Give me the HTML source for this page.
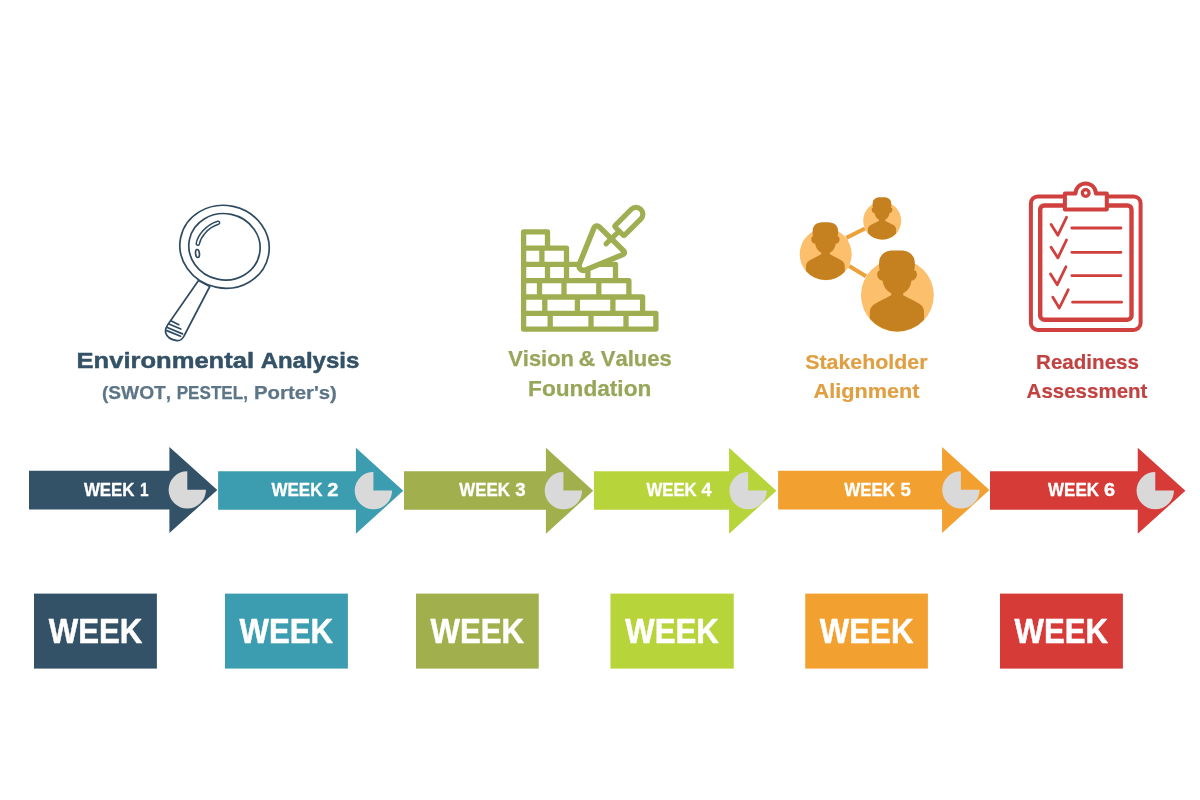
<!DOCTYPE html>
<html lang="en">
<head>
<meta charset="utf-8">
<title>Six-Week Strategy Timeline</title>
<style>
html,body{margin:0;padding:0;background:#ffffff;}
body{width:1200px;height:800px;overflow:hidden;font-family:"Liberation Sans",sans-serif;}
svg{display:block;will-change:transform;}
text{font-family:"Liberation Sans",sans-serif;font-weight:bold;font-kerning:none;stroke-linejoin:round;}
</style>
</head>
<body>
<svg width="1200" height="800" viewBox="0 0 1200 800">
<rect width="1200" height="800" fill="#ffffff"/>

<g id="arrows">
<path fill="#335167" d="M29.0,470.70 H169.4 V446.90 L217.30,490.00 L169.4,533.05 V509.45 H29.0 Z"/>
<path fill="#d9d9d9" d="M187.3,489.85 V471.15 A18.7,18.7 0 1 0 206.00,489.85 Z"/>
<text y="496.0" font-size="18.9" fill="#ffffff" stroke="#ffffff" stroke-width="0.35"><tspan x="83.91" textLength="50.67" lengthAdjust="spacingAndGlyphs">WEEK</tspan> <tspan x="140.01" textLength="8.55" lengthAdjust="spacingAndGlyphs">1</tspan></text>
<path fill="#3d9db0" d="M218.1,471.20 H355.9 V447.65 L403.20,490.75 L355.9,533.80 V509.80 H218.1 Z"/>
<path fill="#d9d9d9" d="M373.4,490.60 V471.90 A18.7,18.7 0 1 0 392.10,490.60 Z"/>
<text y="496.0" font-size="18.9" fill="#ffffff" stroke="#ffffff" stroke-width="0.35"><tspan x="271.41" textLength="51.07" lengthAdjust="spacingAndGlyphs">WEEK</tspan> <tspan x="327.38" textLength="11.15" lengthAdjust="spacingAndGlyphs">2</tspan></text>
<path fill="#a1b04d" d="M404.0,471.20 H545.9 V447.65 L593.20,490.75 L545.9,533.80 V509.80 H404.0 Z"/>
<path fill="#d9d9d9" d="M563.4,490.60 V471.90 A18.7,18.7 0 1 0 582.10,490.60 Z"/>
<text y="496.0" font-size="18.9" fill="#ffffff" stroke="#ffffff" stroke-width="0.35"><tspan x="459.36" textLength="50.62" lengthAdjust="spacingAndGlyphs">WEEK</tspan> <tspan x="515.15" textLength="10.35" lengthAdjust="spacingAndGlyphs">3</tspan></text>
<path fill="#b8d43b" d="M594.0,471.20 H729.1 V447.65 L776.40,490.75 L729.1,533.80 V509.80 H594.0 Z"/>
<path fill="#d9d9d9" d="M748.1,490.60 V471.90 A18.7,18.7 0 1 0 766.80,490.60 Z"/>
<text y="496.0" font-size="18.9" fill="#ffffff" stroke="#ffffff" stroke-width="0.35"><tspan x="646.41" textLength="50.27" lengthAdjust="spacingAndGlyphs">WEEK</tspan> <tspan x="701.60" textLength="10.02" lengthAdjust="spacingAndGlyphs">4</tspan></text>
<path fill="#f2a130" d="M778.1,470.70 H942.1 V446.90 L989.40,490.00 L942.1,533.05 V509.45 H778.1 Z"/>
<path fill="#d9d9d9" d="M960.9,489.85 V471.15 A18.7,18.7 0 1 0 979.60,489.85 Z"/>
<text y="496.0" font-size="18.9" fill="#ffffff" stroke="#ffffff" stroke-width="0.35"><tspan x="844.36" textLength="50.62" lengthAdjust="spacingAndGlyphs">WEEK</tspan> <tspan x="900.40" textLength="10.34" lengthAdjust="spacingAndGlyphs">5</tspan></text>
<path fill="#d63b38" d="M990.0,471.20 H1137.75 V447.65 L1185.40,490.75 L1137.75,533.80 V509.80 H990.0 Z"/>
<path fill="#d9d9d9" d="M1155.25,490.60 V471.90 A18.7,18.7 0 1 0 1173.95,490.60 Z"/>
<text y="496.0" font-size="18.9" fill="#ffffff" stroke="#ffffff" stroke-width="0.35"><tspan x="1048.06" textLength="50.92" lengthAdjust="spacingAndGlyphs">WEEK</tspan> <tspan x="1104.04" textLength="11.10" lengthAdjust="spacingAndGlyphs">6</tspan></text>
</g>
<g id="boxes">
<rect x="34.0" y="593.6" width="122.90" height="75.0" fill="#335167"/>
<text y="642.8" font-size="35.6" fill="#ffffff" stroke="#ffffff" stroke-width="0.5"><tspan x="48.72" textLength="93.57" lengthAdjust="spacingAndGlyphs">WEEK</tspan></text>
<rect x="225.0" y="593.6" width="122.90" height="75.0" fill="#3d9db0"/>
<text y="642.8" font-size="35.6" fill="#ffffff" stroke="#ffffff" stroke-width="0.5"><tspan x="239.62" textLength="93.52" lengthAdjust="spacingAndGlyphs">WEEK</tspan></text>
<rect x="416.0" y="593.6" width="122.75" height="75.0" fill="#a1b04d"/>
<text y="642.8" font-size="35.6" fill="#ffffff" stroke="#ffffff" stroke-width="0.5"><tspan x="430.62" textLength="93.52" lengthAdjust="spacingAndGlyphs">WEEK</tspan></text>
<rect x="610.45" y="593.6" width="123.30" height="75.0" fill="#b8d43b"/>
<text y="642.8" font-size="35.6" fill="#ffffff" stroke="#ffffff" stroke-width="0.5"><tspan x="625.22" textLength="93.57" lengthAdjust="spacingAndGlyphs">WEEK</tspan></text>
<rect x="805.25" y="593.6" width="122.65" height="75.0" fill="#f2a130"/>
<text y="642.8" font-size="35.6" fill="#ffffff" stroke="#ffffff" stroke-width="0.5"><tspan x="819.82" textLength="93.62" lengthAdjust="spacingAndGlyphs">WEEK</tspan></text>
<rect x="1000.0" y="593.6" width="122.90" height="75.0" fill="#d63b38"/>
<text y="642.8" font-size="35.6" fill="#ffffff" stroke="#ffffff" stroke-width="0.5"><tspan x="1014.62" textLength="93.52" lengthAdjust="spacingAndGlyphs">WEEK</tspan></text>
</g>
<g id="headings">
<text y="367.6" font-size="22.9" fill="#335167" stroke="#335167" stroke-width="0.5"><tspan x="76.54" textLength="177.52" lengthAdjust="spacingAndGlyphs">Environmental</tspan> <tspan x="260.65" textLength="98.58" lengthAdjust="spacingAndGlyphs">Analysis</tspan></text>
<text y="399.45" font-size="19.0" fill="#5c7587" stroke="#5c7587" stroke-width="0.25"><tspan x="101.92" textLength="69.24" lengthAdjust="spacingAndGlyphs">(SWOT,</tspan> <tspan x="176.73" textLength="71.19" lengthAdjust="spacingAndGlyphs">PESTEL,</tspan> <tspan x="254.01" textLength="82.87" lengthAdjust="spacingAndGlyphs">Porter's)</tspan></text>
<text y="365.6" font-size="21.2" fill="#97a75a" stroke="#97a75a" stroke-width="0.25"><tspan x="508.23" textLength="65.76" lengthAdjust="spacingAndGlyphs">Vision</tspan> <tspan x="578.60" textLength="16.80" lengthAdjust="spacingAndGlyphs">&amp;</tspan> <tspan x="600.77" textLength="71.00" lengthAdjust="spacingAndGlyphs">Values</tspan></text>
<text y="395.6" font-size="21.2" fill="#97a75a" stroke="#97a75a" stroke-width="0.25"><tspan x="528.11" textLength="123.17" lengthAdjust="spacingAndGlyphs">Foundation</tspan></text>
<text y="369.4" font-size="20.4" fill="#e09f42" stroke="#e09f42" stroke-width="0.2"><tspan x="805.18" textLength="122.34" lengthAdjust="spacingAndGlyphs">Stakeholder</tspan></text>
<text y="397.8" font-size="20.4" fill="#e09f42" stroke="#e09f42" stroke-width="0.2"><tspan x="813.56" textLength="105.90" lengthAdjust="spacingAndGlyphs">Alignment</tspan></text>
<text y="369.4" font-size="20.4" fill="#c24141" stroke="#c24141" stroke-width="0.2"><tspan x="1036.02" textLength="103.02" lengthAdjust="spacingAndGlyphs">Readiness</tspan></text>
<text y="397.8" font-size="20.4" fill="#c24141" stroke="#c24141" stroke-width="0.2"><tspan x="1026.59" textLength="120.86" lengthAdjust="spacingAndGlyphs">Assessment</tspan></text>
</g>
<g id="magnifier" fill="none" stroke="#2f4b61" stroke-width="1.7" stroke-linecap="round" stroke-linejoin="round">
<path fill="#ffffff" d="M198.5,280.5 L170,321.5 C166.5,326 164.8,329.5 165.6,332.5 C166.6,336.5 171,339.8 177,340.6 C180.5,341 182.6,339 184,336 L209.8,286.5 Z"/>
<path d="M170.9,320.7 L178.8,324.7 M169.0,324.0 L180.8,329.0 M167.3,327.5 L182.5,333.85 M166.8,330.6 L180.6,336.3"/>
<ellipse cx="224.6" cy="246.8" rx="44.8" ry="41.3" fill="#ffffff" transform="rotate(12 224.6 246.4)"/>
<ellipse cx="224.5" cy="246.8" rx="35.75" ry="33.1" transform="rotate(12 224.5 246.6)"/>
<path d="M197.75,243.75 C199,237 206,226.5 218.1,222.75" stroke-width="4.6"/>
<path d="M197.75,243.75 C199,237 206,226.5 218.1,222.75" stroke="#ffffff" stroke-width="1.7"/>
<ellipse cx="197.5" cy="253.5" rx="1.9" ry="4.0" transform="rotate(-6 197.5 253.5)"/>
</g>
<g id="wall" fill="none" stroke="#9fae50" stroke-width="5.3" stroke-linejoin="round" stroke-linecap="round">
<path d="M523.6,329.1 V231.8 H547.5 V248.1 H566.5 V264.4 H615.5 V280.7 H628.9 V297.0 H642.6 V313.3 H655.9 V329.1 Z M523.6,248.1 H547.5 M523.6,264.4 H566.5 M523.6,280.7 H615.5 M523.6,297.0 H628.9 M523.6,313.3 H642.6 M541.9,248.1 V264.4 M547.5,264.4 V280.7 M566.5,264.4 V280.7 M587.9,264.4 V280.7 M539.5,280.7 V297.0 M564.0,280.7 V297.0 M598.8,280.7 V297.0 M544.8,297.0 V313.3 M577.4,297.0 V313.3 M612.9,297.0 V313.3 M550.2,313.3 V329.1 M591.0,313.3 V329.1 M626.0,313.3 V329.1"/>
<path fill="#ffffff" d="M593.95,227.99 A3.3,3.3 0 0 1 599.32,226.88 L623.73,250.96 A2.2,2.2 0 0 1 623.02,254.56 L585.40,269.97 A4.6,4.6 0 0 1 579.39,263.98 Z" stroke-width="5.5"/>
<path d="M620.3,230.1 L606,243.9" stroke-width="5.0"/>
<path fill="#ffffff" d="M615.10,225.59 A1.0,1.0 0 0 0 615.11,227.01 L623.19,235.09 A1.0,1.0 0 0 0 624.61,235.10 L640.91,218.87 A6.6,6.6 0 0 0 640.92,209.52 L640.68,209.28 A6.6,6.6 0 0 0 631.33,209.29 Z" stroke-width="5.2"/>
</g>
<g id="people">
<path d="M846.3,237.8 L865,228.5 M849.1,266 L866,276.3" stroke="#eca23b" stroke-width="4.1" fill="none"/>
<circle cx="825.7" cy="254.2" r="26.0" fill="#fcbf6c"/>
<path fill="#c5811f" transform="translate(825.7 254.2) scale(26.0)" d="M-0.17,0.0 L-0.17,-0.055 C-0.30,-0.12 -0.39,-0.25 -0.405,-0.40 C-0.47,-0.40 -0.555,-0.46 -0.555,-0.575 C-0.555,-0.65 -0.52,-0.69 -0.48,-0.69 C-0.51,-0.75 -0.51,-0.85 -0.50,-0.92 C-0.50,-1.09 -0.35,-1.228 -0.13,-1.228 L0.10,-1.228 C0.32,-1.228 0.475,-1.09 0.475,-0.92 C0.485,-0.85 0.485,-0.75 0.455,-0.69 C0.50,-0.69 0.537,-0.65 0.537,-0.575 C0.537,-0.46 0.45,-0.40 0.385,-0.40 C0.37,-0.25 0.29,-0.12 0.16,-0.055 L0.16,0.0 C0.25,0.05 0.5,0.17 0.615,0.242 C0.70,0.30 0.733,0.38 0.733,0.475 L0.733,0.673 A0.995,0.995 0 0 1 -0.758,0.6446 L-0.758,0.475 C-0.758,0.38 -0.72,0.30 -0.627,0.242 C-0.5,0.17 -0.26,0.05 -0.17,0.0 Z"/>
<circle cx="882.2" cy="220.7" r="19.0" fill="#fcbf6c"/>
<path fill="#c5811f" transform="translate(882.2 220.7) scale(19.0)" d="M-0.17,0.0 L-0.17,-0.055 C-0.30,-0.12 -0.39,-0.25 -0.405,-0.40 C-0.47,-0.40 -0.555,-0.46 -0.555,-0.575 C-0.555,-0.65 -0.52,-0.69 -0.48,-0.69 C-0.51,-0.75 -0.51,-0.85 -0.50,-0.92 C-0.50,-1.09 -0.35,-1.228 -0.13,-1.228 L0.10,-1.228 C0.32,-1.228 0.475,-1.09 0.475,-0.92 C0.485,-0.85 0.485,-0.75 0.455,-0.69 C0.50,-0.69 0.537,-0.65 0.537,-0.575 C0.537,-0.46 0.45,-0.40 0.385,-0.40 C0.37,-0.25 0.29,-0.12 0.16,-0.055 L0.16,0.0 C0.25,0.05 0.5,0.17 0.615,0.242 C0.70,0.30 0.733,0.38 0.733,0.475 L0.733,0.673 A0.995,0.995 0 0 1 -0.758,0.6446 L-0.758,0.475 C-0.758,0.38 -0.72,0.30 -0.627,0.242 C-0.5,0.17 -0.26,0.05 -0.17,0.0 Z"/>
<circle cx="897.4" cy="295.3" r="36.4" fill="#fcbf6c"/>
<path fill="#c5811f" transform="translate(897.4 295.3) scale(36.4)" d="M-0.17,0.0 L-0.17,-0.055 C-0.30,-0.12 -0.39,-0.25 -0.405,-0.40 C-0.47,-0.40 -0.555,-0.46 -0.555,-0.575 C-0.555,-0.65 -0.52,-0.69 -0.48,-0.69 C-0.51,-0.75 -0.51,-0.85 -0.50,-0.92 C-0.50,-1.09 -0.35,-1.228 -0.13,-1.228 L0.10,-1.228 C0.32,-1.228 0.475,-1.09 0.475,-0.92 C0.485,-0.85 0.485,-0.75 0.455,-0.69 C0.50,-0.69 0.537,-0.65 0.537,-0.575 C0.537,-0.46 0.45,-0.40 0.385,-0.40 C0.37,-0.25 0.29,-0.12 0.16,-0.055 L0.16,0.0 C0.25,0.05 0.5,0.17 0.615,0.242 C0.70,0.30 0.733,0.38 0.733,0.475 L0.733,0.673 A0.995,0.995 0 0 1 -0.758,0.6446 L-0.758,0.475 C-0.758,0.38 -0.72,0.30 -0.627,0.242 C-0.5,0.17 -0.26,0.05 -0.17,0.0 Z"/>
</g>
<g id="clipboard" fill="none" stroke="#d0403f" stroke-linecap="round" stroke-linejoin="round">
<rect x="1030.9" y="196.4" width="109.7" height="133.6" rx="7" ry="7" stroke-width="4.0"/>
<rect x="1040.2" y="205.5" width="91.3" height="114.2" rx="4" ry="4" stroke-width="4.4"/>
<path fill="#ffffff" stroke-width="4.0" d="M1064.9,209.6 V193.6 H1075.5 A10.2,10.2 0 0 1 1095.9,193.6 H1106.8 V209.6 Z"/>
<circle cx="1085.7" cy="193.0" r="3.35" stroke-width="3.3"/>
<g stroke-width="2.8">
<path d="M1051.1,224.5 L1057.9,235.2 L1066.5,217.3 M1071.8,228 H1121.0"/>
<path d="M1051.1,247.2 L1057.9,257.9 L1066.5,240 M1071.8,252.3 H1121.0"/>
<path d="M1050.5,274 L1057.3,284.7 L1065.9,266.8 M1071.8,275.6 H1121.0"/>
<path d="M1052.7,297.1 L1059.3,308 L1068.2,289.8 M1072.6,302.2 H1121.6"/>
</g>
</g>
</svg>
</body>
</html>
